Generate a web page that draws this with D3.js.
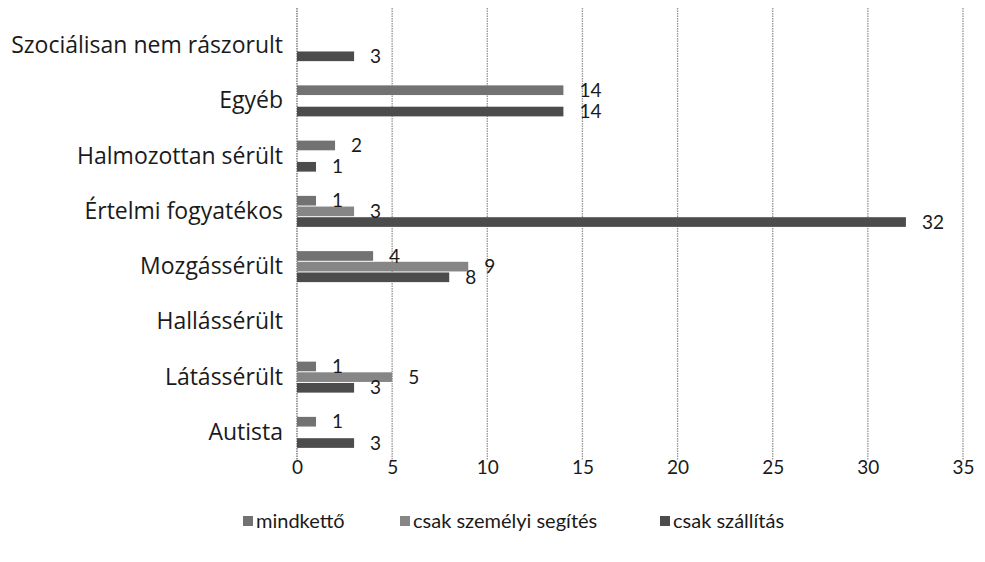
<!DOCTYPE html>
<html>
<head>
<meta charset="utf-8">
<script src="https://cdn.jsdelivr.net/npm/d3@7"></script>
<style>
  body { margin: 0; background: #fff; }
  text { font-family: Lato, "Open Sans", sans-serif; fill: #1a1a1a; }
</style>
</head>
<body>
<div id="chart"></div>
<script>
// categories, top to bottom
var categories = ["Szociálisan nem rászorult", "Egyéb", "Halmozottan sérült", "Értelmi fogyatékos",
  "Mozgássérült", "Hallássérült", "Látássérült", "Autista"];
var seriesNames = ["mindkettő", "csak személyi segítés", "csak szállítás"];
// null = no bar
var mindketto = [null, 14, 2, 1, 4, null, 1, 1];
var szemelyi = [null, null, null, 3, 9, null, 5, null];
var szallitas = [3, 14, 1, 32, 8, null, 3, 3];
var xTicks = [0, 5, 10, 15, 20, 25, 30, 35];

var seriesValues = [mindketto, szemelyi, szallitas];
var colors = ["#727272", "#868686", "#4c4c4c"];

var svgWidth = 985, svgHeight = 562;
var margin = { top: 18, bottom: 102, left: 297, right: 22 };
var width = svgWidth - margin.left - margin.right;
var height = svgHeight - margin.top - margin.bottom;

var svg = d3.select("#chart")
  .append("svg")
  .attr("width", svgWidth)
  .attr("height", svgHeight);

var chartGroup = svg.append("g")
  .attr("transform", `translate(${margin.left}, ${margin.top})`);

// scales
var xScale = d3.scaleLinear().domain([0, 35]).range([0, width]);
var yScale = d3.scaleBand().domain(categories).range([0, height]);
var ySeries = d3.scaleBand().domain(seriesNames)
  .range([yScale.bandwidth() / 2 - 16, yScale.bandwidth() / 2 + 16]);

// dotted gridlines
chartGroup.append("g")
  .selectAll("line")
  .data(xTicks)
  .enter()
  .append("line")
  .attr("x1", d => xScale(d))
  .attr("x2", d => xScale(d))
  .attr("y1", -10)
  .attr("y2", height)
  .attr("stroke", d => d === 0 ? "#6a6a6a" : "#939393")
  .attr("stroke-width", 1.3)
  .attr("stroke-dasharray", "1.5,1");

// x axis labels
var xAxis = d3.axisBottom(xScale).tickValues(xTicks).tickSize(0).tickPadding(0);
var xAxisGroup = chartGroup.append("g")
  .attr("transform", `translate(0, ${height})`)
  .call(xAxis);
xAxisGroup.select(".domain").remove();
xAxisGroup.selectAll("text")
  .style("font-family", "Lato, sans-serif")
  .style("font-size", "19px")
  .attr("fill", "#1a1a1a");

// category labels
var yAxis = d3.axisLeft(yScale).tickSize(0).tickPadding(14);
var yAxisGroup = chartGroup.append("g").call(yAxis);
yAxisGroup.select(".domain").remove();
yAxisGroup.selectAll("text")
  .style("font-family", "'Open Sans', sans-serif")
  .style("font-size", "23px")
  .attr("fill", "#1a1a1a");

// bars
var barData = [];
categories.forEach(function(cat, i) {
  seriesNames.forEach(function(s, j) {
    if (seriesValues[j][i] !== null) {
      barData.push({ cat: cat, series: s, idx: j, value: seriesValues[j][i] });
    }
  });
});

chartGroup.selectAll("rect.bar")
  .data(barData)
  .enter()
  .append("rect")
  .attr("class", "bar")
  .attr("x", xScale(0))
  .attr("y", d => yScale(d.cat) + ySeries(d.series) + 0.5)
  .attr("width", d => xScale(d.value) - xScale(0))
  .attr("height", ySeries.bandwidth() - 1)
  .attr("fill", d => colors[d.idx]);

// value labels
chartGroup.selectAll("text.val")
  .data(barData)
  .enter()
  .append("text")
  .attr("class", "val")
  .attr("x", d => xScale(d.value) + 16)
  .attr("y", d => yScale(d.cat) + ySeries(d.series) + ySeries.bandwidth() / 2)
  .attr("dy", "0.35em")
  .style("font-size", "19px")
  .text(d => d.value);

// legend
var legendX = [243, 400, 660];
var legend = svg.append("g")
  .attr("transform", "translate(0, 521)");
var items = legend.selectAll("g")
  .data(seriesNames)
  .enter()
  .append("g")
  .attr("transform", (d, i) => `translate(${legendX[i]}, 0)`);
items.append("rect")
  .attr("x", 0)
  .attr("y", -5)
  .attr("width", 10)
  .attr("height", 10)
  .attr("fill", (d, i) => colors[i]);
items.append("text")
  .attr("x", 13)
  .attr("dy", "0.35em")
  .style("font-size", "20px")
  .text(d => d);
</script>
</body>
</html>
